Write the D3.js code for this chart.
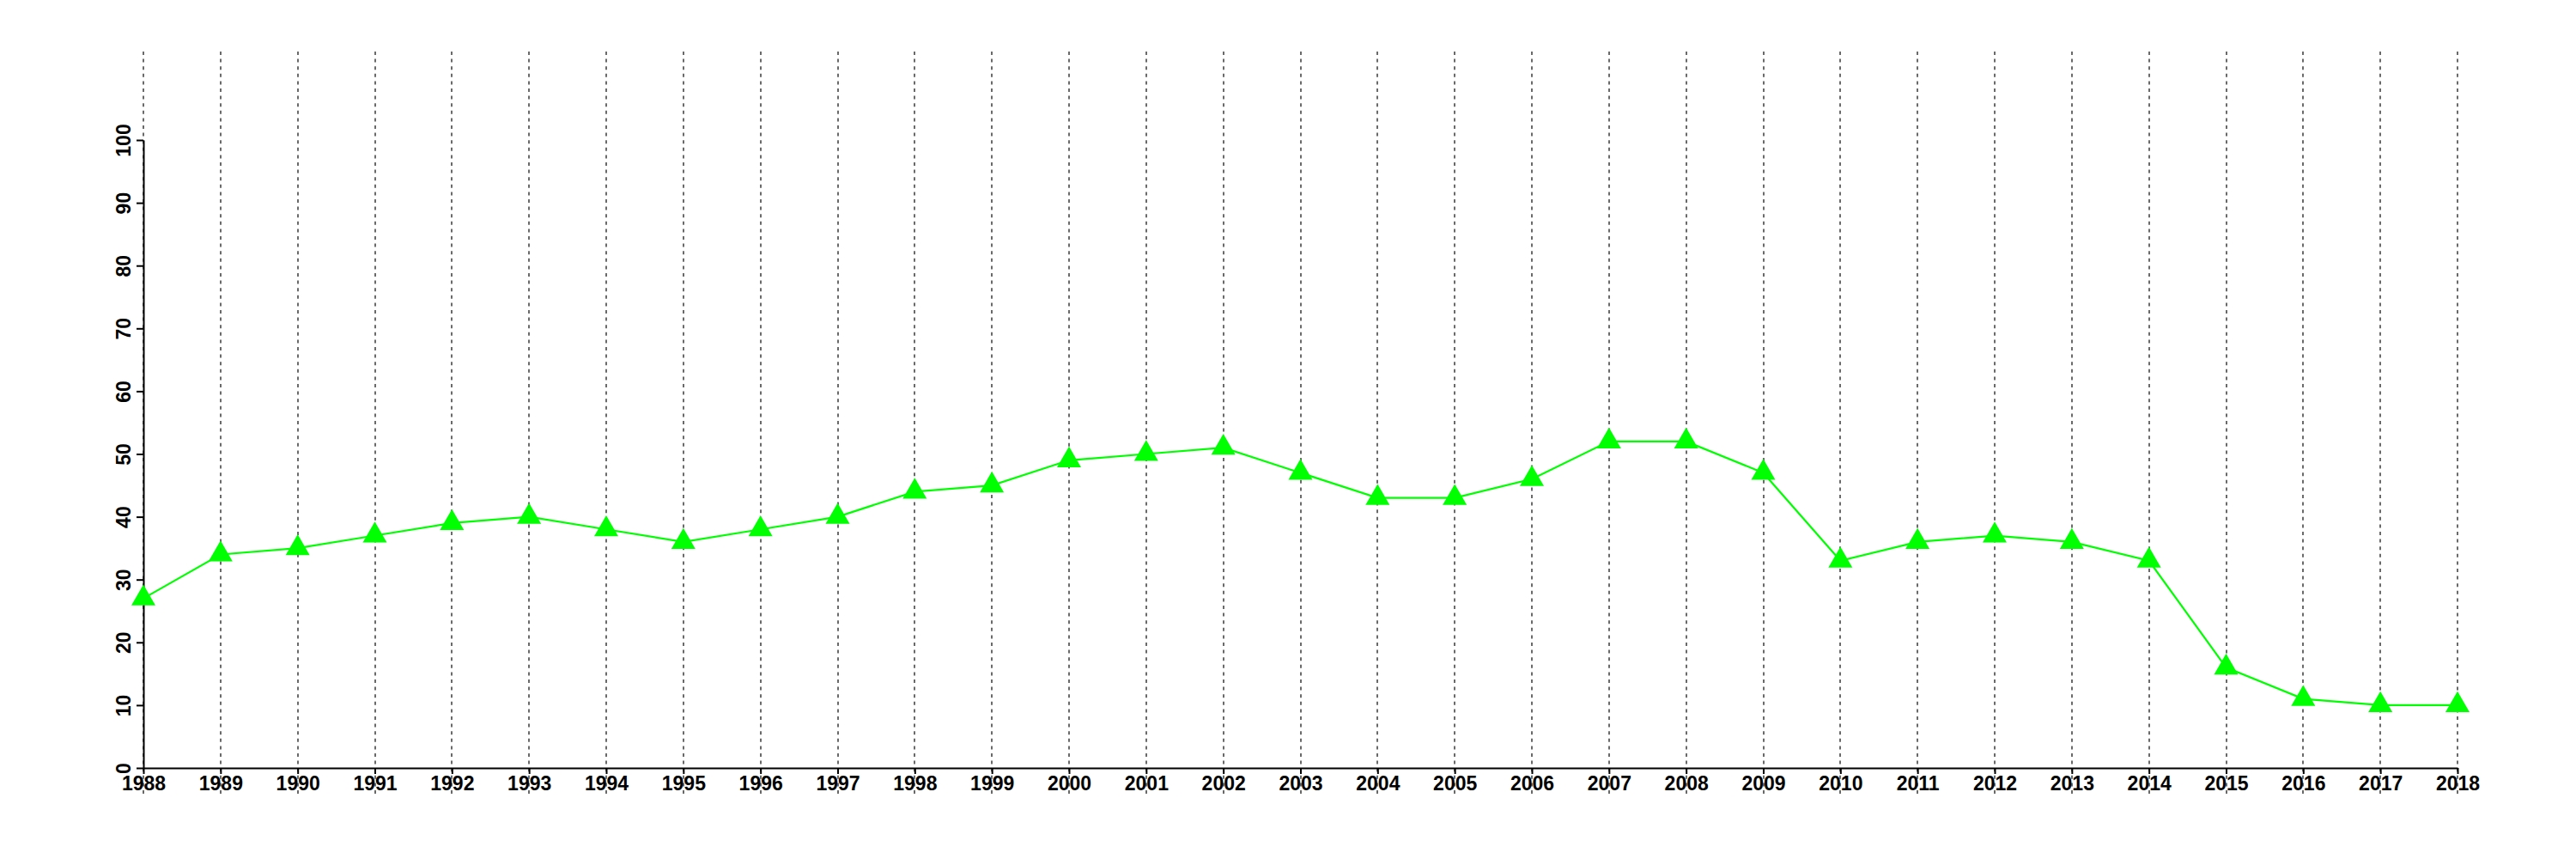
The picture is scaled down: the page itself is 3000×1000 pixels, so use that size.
<!DOCTYPE html>
<html>
<head>
<meta charset="utf-8">
<script src="https://cdn.jsdelivr.net/npm/d3@7"></script>
<style>
  html, body { margin: 0; padding: 0; background: #fff; }
  svg { display: block; }
  text { font-family: "Liberation Sans", Arial, Helvetica, sans-serif; font-weight: bold; }
</style>
</head>
<body>
<svg id="chart" width="3000" height="1000"></svg>
<script>
const years = [1988,1989,1990,1991,1992,1993,1994,1995,1996,1997,1998,1999,2000,2001,2002,2003,2004,2005,2006,2007,2008,2009,2010,2011,2012,2013,2014,2015,2016,2017,2018];
const values = [27,34,35,37,39,40,38,36,38,40,44,45,49,50,51,47,43,43,46,52,52,47,33,36,37,36,33,16,11,10,10];
const yTicks = [0,10,20,30,40,50,60,70,80,90,100];

const svg = d3.select("#chart");
const x0 = 167, x1 = 2862, yBottom = 894, yTop = 163;

const x = d3.scaleLinear().domain([d3.min(years), d3.max(years)]).range([x0, x1]);
const y = d3.scaleLinear().domain([0, 100]).range([yBottom, yTop]);

// vertical dashed grid lines
svg.append("g").selectAll("line").data(years).join("line")
  .attr("x1", d => Math.round(x(d))).attr("x2", d => Math.round(x(d)))
  .attr("y1", 60).attr("y2", 928)
  .attr("stroke", "#6a6a6a").attr("stroke-width", 2)
  .attr("stroke-dasharray", "4,4.6");

// x axis
const xAxis = d3.axisBottom(x).tickValues(years).tickFormat(d3.format("d")).tickSize(7).tickSizeOuter(0);
const gx = svg.append("g").attr("transform", `translate(0,${yBottom})`).call(xAxis);
gx.select(".domain").attr("stroke", "#000").attr("stroke-width", 2);
gx.selectAll(".tick line").attr("stroke", "#000").attr("stroke-width", 2);
gx.selectAll(".tick text").attr("font-size", 23).attr("fill", "#000")
  .attr("y", 26).attr("dy", 0);

// y axis
const yAxis = d3.axisLeft(y).tickValues(yTicks).tickSize(8).tickSizeOuter(0);
const gy = svg.append("g").attr("transform", `translate(${x0},0)`).call(yAxis);
gy.select(".domain").attr("stroke", "#000").attr("stroke-width", 2);
gy.selectAll(".tick line").attr("stroke", "#000").attr("stroke-width", 2);
gy.selectAll(".tick text").attr("font-size", 23).attr("fill", "#000")
  .attr("x", null).attr("dy", null)
  .attr("text-anchor", "middle")
  .attr("transform", "translate(-15,0) rotate(-90)");

// line
const line = d3.line().x((d, i) => x(years[i])).y(d => y(d));
svg.append("path").datum(values)
  .attr("d", line)
  .attr("fill", "none").attr("stroke", "#00ff00").attr("stroke-width", 2.2);

// triangle markers
const sym = d3.symbol().type(d3.symbolTriangle).size(340);
svg.append("g").selectAll("path").data(values).join("path")
  .attr("d", sym)
  .attr("transform", (d, i) => `translate(${x(years[i])},${y(d)})`)
  .attr("fill", "#00ff00");
</script>
</body>
</html>
